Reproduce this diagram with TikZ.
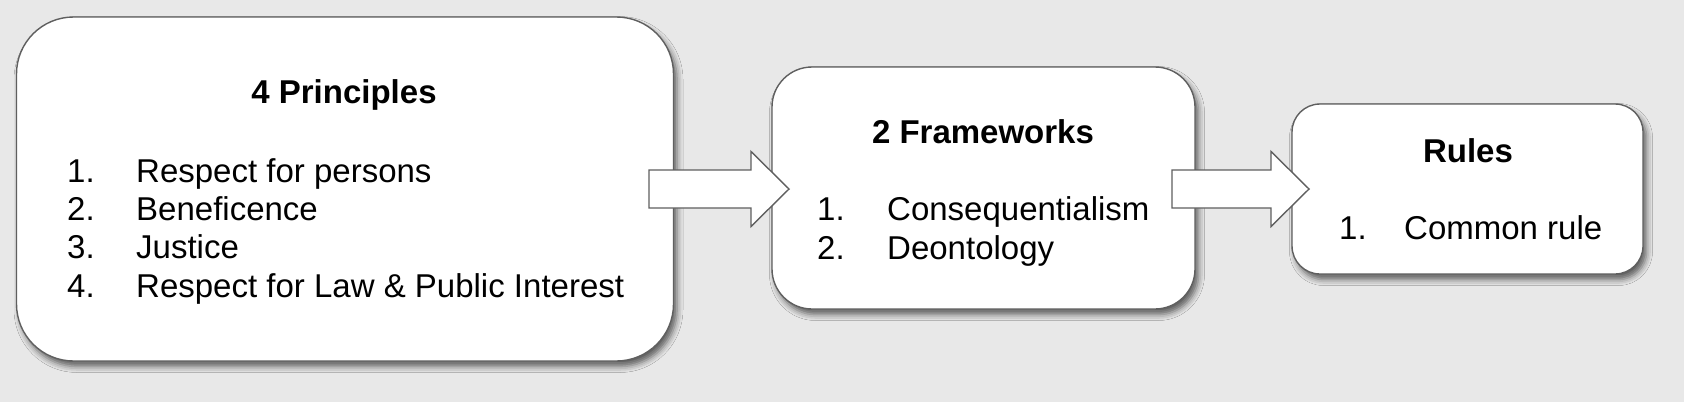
\documentclass[tikz,border=0pt]{standalone}
\usepackage{fontspec}
\setmainfont{Liberation Sans}
\usetikzlibrary{shadows.blur,calc}
\definecolor{bgc}{HTML}{E8E8E8}
\definecolor{edge}{HTML}{5F5F5F}
\tikzset{
  box/.style={draw=edge, line width=1.4pt, fill=white, rectangle, inner sep=0pt,
    blur shadow={shadow xshift=3.5pt, shadow yshift=-5.5pt, shadow blur radius=6pt, shadow opacity=60}},
  txt/.style={anchor=base west, inner sep=0pt, font=\fontsize{33}{39}\selectfont},
  ttl/.style={anchor=base, inner sep=0pt, font=\fontsize{33}{39}\selectfont\bfseries},
  barrow/.style={draw=edge, line width=1.4pt, fill=white, line join=miter}
}
\newcommand\blockarrow[2]{%
  \path[barrow] ($(#1)+(0,-19)$) -- ($(#2)+(-38,-19)$) -- ($(#2)+(-38,-37.5)$) -- (#2)
    -- ($(#2)+(-38,37.5)$) -- ($(#2)+(-38,19)$) -- ($(#1)+(0,19)$) -- cycle;}
\begin{document}
\begin{tikzpicture}[x=1pt,y=-1pt]
\fill[bgc] (0,0) rectangle (1684,402);
\useasboundingbox (0,0) rectangle (1684,402);

\node[box, rounded corners=57pt, minimum width=657pt, minimum height=344pt] (b1) at (345,189) {};
\node[box, rounded corners=40pt, minimum width=423pt, minimum height=242pt] (b2) at (983.5,188) {};
\node[box, rounded corners=28pt, minimum width=351pt, minimum height=170pt] (b3) at (1467.5,189) {};

\node[ttl] (t1) at (344,103) {4 Principles};
\node[txt] (n11) at (67,182) {1.};
\node[txt] (i11) at (136,182) {Respect for persons};
\node[txt] (n12) at (67,220) {2.};
\node[txt] (i12) at (136,220) {Beneficence};
\node[txt] (n13) at (67,258) {3.};
\node[txt] (i13) at (136,258) {Justice};
\node[txt] (n14) at (67,297) {4.};
\node[txt] (i14) at (136,297) {Respect for Law \& Public Interest};

\node[ttl] (t2) at (983,143) {2 Frameworks};
\node[txt] (n21) at (817,220) {1.};
\node[txt] (i21) at (887,220) {Consequentialism};
\node[txt] (n22) at (817,259) {2.};
\node[txt] (i22) at (887,259) {Deontology};

\node[ttl] (t3) at (1468,162) {Rules};
\node[txt] (n31) at (1339,239) {1.};
\node[txt] (i31) at (1404,239) {Common rule};

\coordinate (a1s) at (649,189);
\coordinate (a1e) at (789,189);
\coordinate (a2s) at (1172,189);
\coordinate (a2e) at (1309,189);
\blockarrow{a1s}{a1e}
\blockarrow{a2s}{a2e}
\end{tikzpicture}
\end{document}
